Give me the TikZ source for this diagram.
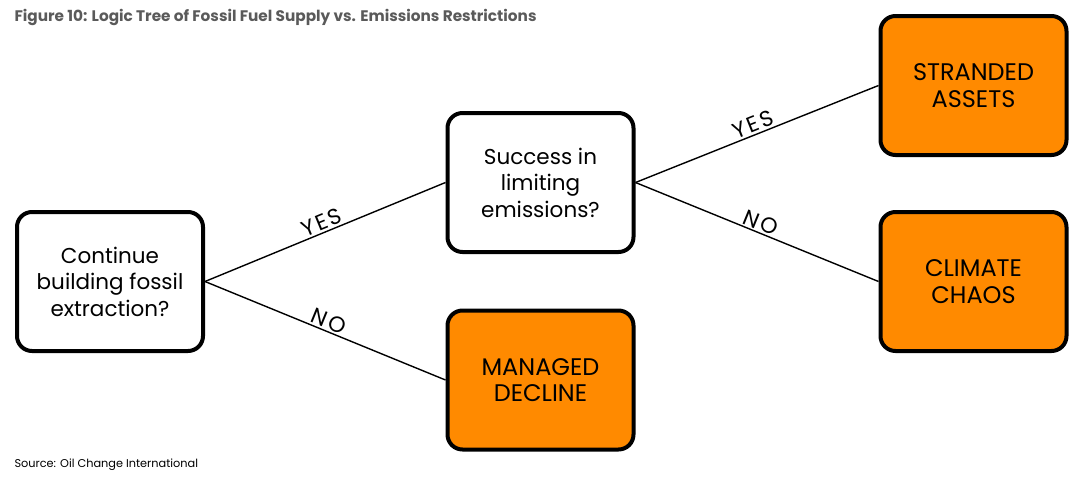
\documentclass[tikz,border=0pt]{standalone}
\usepackage{fontspec}
\setmainfont{Poppins}
\newfontfamily\labelfont[LetterSpace=10]{Poppins}
\definecolor{boxorange}{HTML}{FF8A00}
\definecolor{titlegray}{HTML}{5A5A5A}
\begin{document}
\begin{tikzpicture}[x=1pt,y=-1pt,
  box/.style={draw=black, line width=4pt, rounded corners=15pt, minimum width=186pt, minimum height=139pt, align=center, inner sep=0pt},
  question/.style={box, fill=white, font=\fontsize{21.5}{26.5}\selectfont},
  outcome/.style={box, fill=boxorange, font=\fontsize{24}{26.5}\selectfont},
  branch/.style={line width=1.4pt, draw=black},
  blabel/.style={sloped, above, font=\labelfont\fontsize{22}{22}\selectfont, inner sep=1.5pt}]
\useasboundingbox (0,0) rectangle (1088,480);
\node[anchor=west, text=titlegray, font=\fontsize{15.3}{17}\selectfont\bfseries] (title) at (11,17) {Figure 10: Logic Tree of Fossil Fuel Supply vs. Emissions Restrictions};
\node[anchor=west, font=\fontsize{11.3}{13}\selectfont] (source) at (11,465) {Source: Oil Change International};
\node[question] (cont) at (110,281.5) {Continue\\building fossil\\extraction?};
\node[question] (succ) at (540.5,182.5) {Success in\\limiting\\emissions?};
\node[outcome] (managed) at (540.5,380) {MANAGED\\DECLINE};
\node[outcome] (stranded) at (973.5,85.5) {STRANDED\\ASSETS};
\node[outcome] (chaos) at (973.5,281.5) {CLIMATE\\CHAOS};
\draw[branch] (cont.east) -- node[blabel] (y1) {YES} (succ.west);
\draw[branch] (cont.east) -- node[blabel] (n1) {NO} (managed.west);
\draw[branch] (succ.east) -- node[blabel] (y2) {YES} (stranded.west);
\draw[branch] (succ.east) -- node[blabel] (n2) {NO} (chaos.west);
\end{tikzpicture}
\end{document}
